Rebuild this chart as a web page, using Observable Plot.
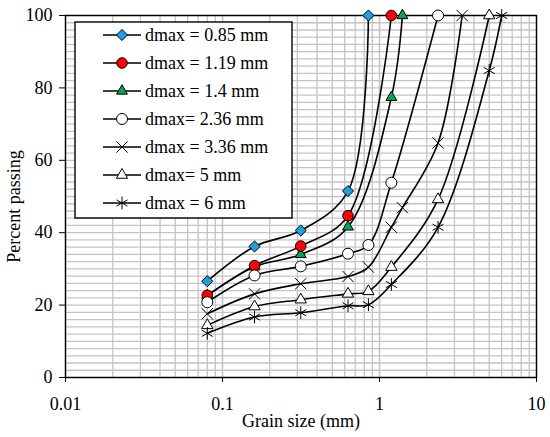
<!DOCTYPE html>
<html>
<head>
<meta charset="utf-8">
<script src="https://cdn.jsdelivr.net/npm/d3@7"></script>
<script src="https://cdn.jsdelivr.net/npm/@observablehq/plot@0.6"></script>
<style>
  html, body { margin: 0; padding: 0; background: #fff; }
  #chart { width: 550px; height: 437px; }
  svg { font-family: "Liberation Serif", "DejaVu Serif", serif; }
</style>
</head>
<body>
<div id="chart"></div>
<script>
// ---- data ----
const seriesNames = ["dmax = 0.85 mm", "dmax = 1.19 mm", "dmax = 1.4 mm", "dmax= 2.36 mm", "dmax = 3.36 mm", "dmax= 5 mm", "dmax = 6 mm"];

const size085 = [0.08, 0.16, 0.315, 0.63, 0.85];
const pass085 = [26.6, 36.2, 40.6, 51.5, 100];

const size119 = [0.08, 0.16, 0.315, 0.63, 1.19];
const pass119 = [22.7, 30.9, 36.3, 44.7, 100];

const size14 = [0.08, 0.16, 0.315, 0.63, 1.19, 1.4];
const pass14 = [22.6, 30.6, 34.0, 41.6, 77.4, 100];

const size236 = [0.08, 0.16, 0.315, 0.63, 0.85, 1.19, 2.36];
const pass236 = [20.8, 28.2, 30.7, 34.2, 36.6, 53.8, 100];

const size336 = [0.08, 0.16, 0.315, 0.63, 0.85, 1.19, 1.4, 2.36, 3.36];
const pass336 = [17.6, 23.1, 25.9, 27.9, 30.5, 41.5, 46.9, 64.8, 100];

const size5 = [0.08, 0.16, 0.315, 0.63, 0.85, 1.19, 2.36, 5];
const pass5 = [14.4, 19.6, 21.5, 23.1, 23.8, 30.5, 49.2, 100];

const size6 = [0.08, 0.16, 0.315, 0.63, 0.85, 1.19, 2.36, 5, 6];
const pass6 = [12.2, 16.7, 17.9, 19.8, 20.1, 25.7, 41.5, 84.8, 100];

const xTicks = [0.01, 0.1, 1, 10];
const yTicks = [0, 20, 40, 60, 80, 100];
const xTitle = "Grain size (mm)";
const yTitle = "Percent passing";

// ---- styles ----
const symbols = ["diamond2", "circle", "triangle2", "circle", "times", "triangle2", "asterisk"];
const fills = ["#1f9fe0", "#ff0000", "#00a651", "#ffffff", "none", "#ffffff", "none"];
const radii = [5, 5.3, 5.2, 5.5, 5.2, 5.4, 6];
const dotOrder = [0, 2, 1, 3, 4, 5, 6];

const sizes = [size085, size119, size14, size236, size336, size5, size6];
const passes = [pass085, pass119, pass14, pass236, pass336, pass5, pass6];

const table = [];
seriesNames.forEach((s, i) => sizes[i].forEach((x, j) => table.push({series: s, size: x, pass: passes[i][j]})));

const minorX = [];
for (const d of [0.01, 0.1, 1]) for (let k = 1; k <= 10; k++) minorX.push(+(d * k).toPrecision(3));
const minorY = d3.range(0, 101, 2);

const marks = [
  Plot.gridX(minorX, {stroke: "#c4c4c4", strokeOpacity: 1, strokeWidth: 1.3}),
  Plot.gridY(minorY, {stroke: "#c4c4c4", strokeOpacity: 1, strokeWidth: 1.3}),
  Plot.frame({stroke: "black", strokeWidth: 1.4}),
  Plot.axisY(yTicks, {tickSize: 6, tickPadding: 7, fontSize: 18, label: null}),
  Plot.axisX(xTicks, {tickSize: 5, tickPadding: 15, fontSize: 18, tickFormat: d => String(d), label: null}),
  Plot.text([yTitle], {frameAnchor: "left", dx: -51, dy: 10, rotate: -90, textAnchor: "middle", lineAnchor: "middle", fontSize: 18, fill: "black"}),
  Plot.text([xTitle], {frameAnchor: "bottom", dy: 44, textAnchor: "middle", lineAnchor: "middle", fontSize: 18, fill: "black"})
];
seriesNames.forEach((s, i) => {
  const rows = table.filter(d => d.series === s);
  marks.push(Plot.line(rows, {x: "size", y: "pass", curve: "catmull-rom", stroke: "black", strokeWidth: 1.6}));
});
dotOrder.forEach(i => {
  const rows = table.filter(d => d.series === seriesNames[i]);
  marks.push(Plot.dot(rows, {x: "size", y: "pass", symbol: () => symbols[i], fill: fills[i], stroke: "black", strokeWidth: 1, r: radii[i]}));
});

const chart = Plot.plot({
  width: 550,
  height: 437,
  marginLeft: 65,
  marginRight: 14,
  marginTop: 15,
  marginBottom: 60,
  style: {fontFamily: "'Liberation Serif', serif", fontSize: "18px", color: "black", background: "white", overflow: "visible"},
  x: {type: "log", domain: [0.01, 10]},
  y: {domain: [0, 100]},
  symbol: {type: "identity"},
  marks
});
document.getElementById("chart").appendChild(chart);

// ---- legend ----
const svg = d3.select(chart);
const lg = svg.append("g").attr("text-anchor", "start");
const lx = 75, ly = 22, lw = 217, lh = 196, rowH = 28;
lg.append("rect").attr("x", lx).attr("y", ly).attr("width", lw).attr("height", lh)
  .attr("fill", "white").attr("stroke", "black").attr("stroke-width", 1.4);
const symMap = {diamond2: d3.symbolDiamond2, circle: d3.symbolCircle, triangle2: d3.symbolTriangle2, times: d3.symbolTimes, asterisk: d3.symbolAsterisk};
seriesNames.forEach((s, i) => {
  const cy = ly + 13 + i * rowH;
  lg.append("line").attr("x1", lx + 28).attr("x2", lx + 66).attr("y1", cy).attr("y2", cy)
    .attr("stroke", "black").attr("stroke-width", 1.6);
  lg.append("path").attr("transform", `translate(${lx + 47},${cy})`)
    .attr("d", d3.symbol(symMap[symbols[i]], radii[i] * radii[i] * Math.PI)())
    .attr("fill", fills[i]).attr("stroke", "black").attr("stroke-width", 1);
  lg.append("text").attr("x", lx + 70).attr("y", cy).attr("dy", "0.35em")
    .attr("text-anchor", "start").attr("font-size", 18).attr("fill", "black").text(s);
});
</script>
</body>
</html>
